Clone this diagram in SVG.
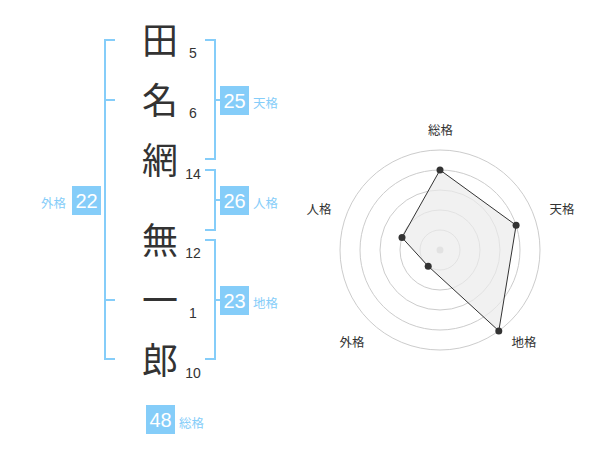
<svg xmlns="http://www.w3.org/2000/svg" width="600" height="470" viewBox="0 0 600 470">
<style>
.br{fill:none;stroke:#85cdf9;stroke-width:2}
.ch{font-family:"Noto Sans CJK JP","Noto Sans CJK SC",sans-serif;font-size:36px;fill:#333;text-anchor:middle}
.num{font-family:"Liberation Sans",Arial,sans-serif;font-size:14px;fill:#333;text-anchor:middle}
.box{fill:#85cdf9}
.bn{font-family:"Liberation Sans",Arial,sans-serif;font-size:20px;fill:#fff;text-anchor:middle}
.lb{font-family:"Noto Sans CJK JP","Noto Sans CJK SC",sans-serif;font-size:12.5px;fill:#85cdf9}
.rl{font-family:"Noto Sans CJK JP","Noto Sans CJK SC",sans-serif;font-size:12.5px;fill:#333;text-anchor:middle}
.ring{fill:none;stroke:#ccc;stroke-width:1}
.dot{fill:#333}
</style>
<g id="connectors">
<path class="br" d="M115,40 H105 V359 H115 M105,100 H115 M105,300 H115"/>
<path class="br" d="M205,40 H215 V159 H205 M215,100 H220"/>
<path class="br" d="M205,170 H215 V230 H205 M215,200 H220"/>
<path class="br" d="M205,240 H215 V359 H205 M215,300 H220"/>
</g>
<g id="name">
<text class="ch" x="160" y="54">田</text>
<text class="ch" x="160" y="114">名</text>
<text class="ch" x="160" y="174">網</text>
<text class="ch" x="160" y="254">無</text>
<text class="ch" x="160" y="314">一</text>
<text class="ch" x="160" y="374">郎</text>
<text class="num" x="193" y="58">5</text>
<text class="num" x="193" y="118">6</text>
<text class="num" x="193" y="179">14</text>
<text class="num" x="193" y="258">12</text>
<text class="num" x="193" y="318">1</text>
<text class="num" x="193" y="378">10</text>
</g>
<g id="tenkaku">
<rect class="box" x="220" y="86" width="29" height="29"/>
<text class="bn" x="234.5" y="107.5">25</text>
<text class="lb" x="253" y="108">天格</text>
</g>
<g id="jinkaku">
<rect class="box" x="220" y="186" width="29" height="29"/>
<text class="bn" x="234.5" y="207.5">26</text>
<text class="lb" x="253" y="208">人格</text>
</g>
<g id="chikaku">
<rect class="box" x="220" y="286" width="29" height="29"/>
<text class="bn" x="234.5" y="307.5">23</text>
<text class="lb" x="253" y="308">地格</text>
</g>
<g id="gaikaku">
<rect class="box" x="72" y="186" width="29" height="29"/>
<text class="bn" x="86.5" y="207.5">22</text>
<text class="lb" x="41" y="208">外格</text>
</g>
<g id="soukaku">
<rect class="box" x="146" y="405" width="29" height="29"/>
<text class="bn" x="160.5" y="426.5">48</text>
<text class="lb" x="179" y="428">総格</text>
</g>
<g id="radar">
<circle class="ring" cx="440" cy="250" r="20"/>
<circle class="ring" cx="440" cy="250" r="40"/>
<circle class="ring" cx="440" cy="250" r="60"/>
<circle class="ring" cx="440" cy="250" r="80"/>
<circle class="ring" cx="440" cy="250" r="100"/>
<circle cx="440" cy="250" r="3.5" fill="#ccc"/>
<polygon points="440,170 516.1,225.3 498.8,330.9 428.2,266.2 402,237.6" fill="#ebebeb" fill-opacity="0.7" stroke="#333" stroke-width="1"/>
<circle class="dot" cx="440" cy="170" r="3.5"/>
<circle class="dot" cx="516.1" cy="225.3" r="3.5"/>
<circle class="dot" cx="498.8" cy="330.9" r="3.5"/>
<circle class="dot" cx="428.2" cy="266.2" r="3.5"/>
<circle class="dot" cx="402" cy="237.6" r="3.5"/>
<text class="rl" x="440.5" y="135">総格</text>
<text class="rl" x="562" y="213.5">天格</text>
<text class="rl" x="319" y="213.5">人格</text>
<text class="rl" x="352" y="347">外格</text>
<text class="rl" x="524" y="347">地格</text>
</g>
</svg>
